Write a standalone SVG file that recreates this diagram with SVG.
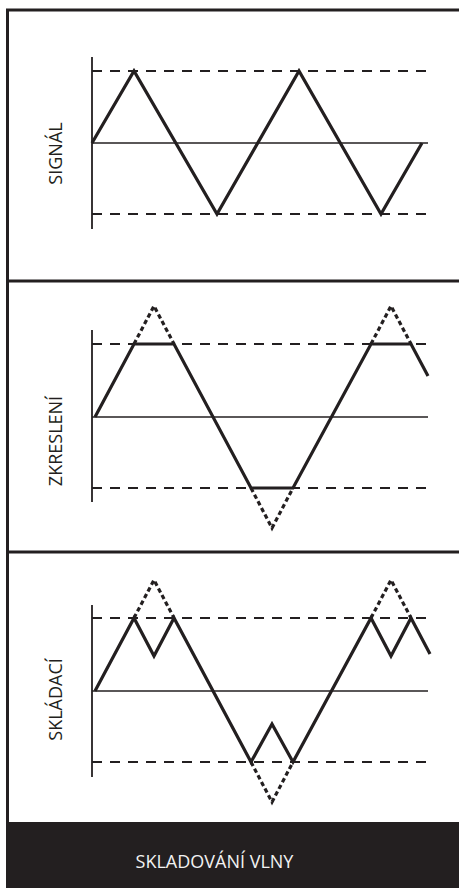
<svg xmlns="http://www.w3.org/2000/svg" width="459" height="888" viewBox="0 0 459 888">
<style>
.frame{fill:none;stroke:#231f20;stroke-width:3}
.div{stroke:#231f20;stroke-width:3}
.axis{stroke:#231f20;stroke-width:1.8;fill:none}
.base{stroke:#231f20;stroke-width:1.5;fill:none}
.limit{stroke:#231f20;stroke-width:1.8;stroke-dasharray:10 8;fill:none}
.wave{stroke:#231f20;stroke-width:3.2;fill:none;stroke-linejoin:miter;stroke-linecap:butt}
.ghost{stroke:#231f20;stroke-width:3.2;fill:none;stroke-dasharray:4.5 3}
.lbl{font-family:"Open Sans","Liberation Sans",sans-serif;font-size:18px;fill:#231f20;text-anchor:middle}
.foot{font-family:"Open Sans","Liberation Sans",sans-serif;font-size:18px;fill:#f2f2f2;text-anchor:middle}
</style>
<rect width="459" height="888" fill="#ffffff"/>
<g id="frame">
<rect class="frame" x="7.5" y="10" width="470" height="830"/>
<line class="div" x1="6" y1="281" x2="459" y2="281"/>
<line class="div" x1="6" y1="552" x2="459" y2="552"/>
</g>
<g id="panel-signal">
<line class="axis" x1="92" y1="57" x2="92" y2="229"/>
<line class="limit" x1="92" y1="71" x2="428" y2="71"/>
<line class="limit" x1="92" y1="214" x2="428" y2="214"/>
<line class="base" x1="92" y1="143" x2="428" y2="143"/>
<path class="wave" d="M92,143 L134,71 L217,214 L299,71 L381,214 L422,143"/>
<text class="lbl" transform="translate(62,153.5) rotate(-90)">SIGNÁL</text>
</g>
<g id="panel-clipping">
<line class="axis" x1="92" y1="330" x2="92" y2="502"/>
<line class="limit" x1="92" y1="344" x2="428" y2="344"/>
<line class="limit" x1="92" y1="488" x2="428" y2="488"/>
<line class="base" x1="92" y1="417" x2="428" y2="417"/>
<path class="ghost" d="M134,344 L154,306 L174,344 M251,488 L272,528 L293,488 M371,344 L391,306 L411,344"/>
<path class="wave" d="M95,417 L134,344 L174,344 L251,488 L293,488 L371,344 L411,344 L428,376"/>
<text class="lbl" transform="translate(62,441) rotate(-90)">ZKRESLENÍ</text>
</g>
<g id="panel-folding">
<line class="axis" x1="92" y1="605" x2="92" y2="777"/>
<line class="limit" x1="92" y1="618" x2="428" y2="618"/>
<line class="limit" x1="92" y1="762" x2="428" y2="762"/>
<line class="base" x1="92" y1="691" x2="428" y2="691"/>
<path class="ghost" d="M134,618 L154,580 L174,618 M251,762 L272,802 L293,762 M371,618 L391,580 L411,618"/>
<path class="wave" d="M95,691 L134,618 L154,656 L174,618 L251,762 L272,724 L293,762 L371,618 L391,656 L411,618 L430,654"/>
<text class="lbl" transform="translate(62,699.5) rotate(-90)">SKLÁDACÍ</text>
</g>
<g id="footer">
<rect x="6" y="822" width="453" height="66" fill="#231f20"/>
<text class="foot" x="214.5" y="868">SKLADOVÁNÍ VLNY</text>
</g>
</svg>
